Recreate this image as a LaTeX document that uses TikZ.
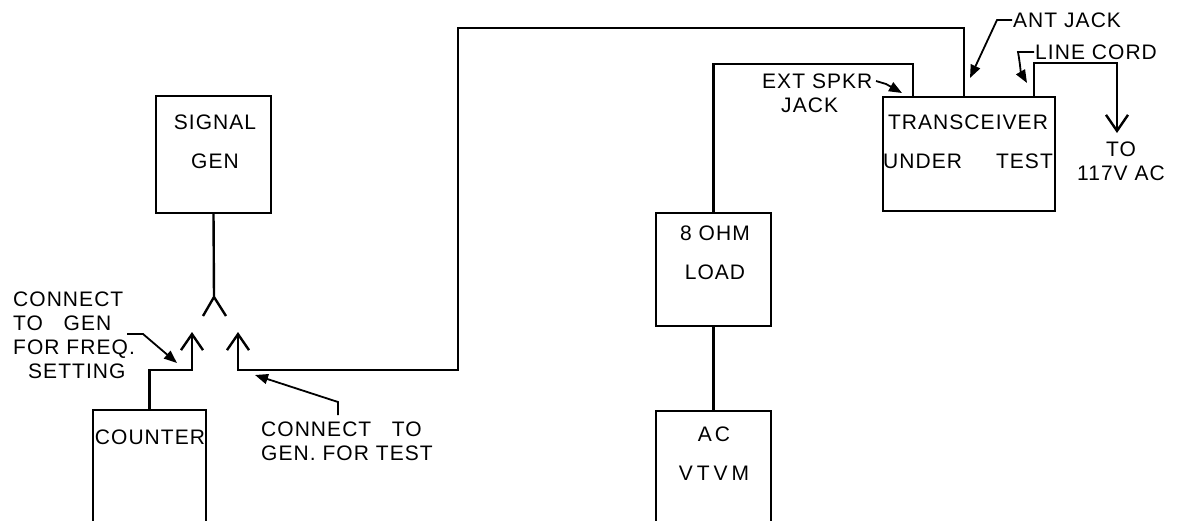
\documentclass[tikz,border=0pt]{standalone}
\usepackage{fontspec}
\setmainfont{Liberation Sans}[LetterSpace=5]
\usetikzlibrary{arrows.meta}

\tikzset{
  unit/.style={draw, minimum width=#1, inner sep=0pt, outer sep=0pt},
  txt/.style={inner sep=0pt, align=center, font=\fontsize{21}{39}\selectfont},
  note/.style={inner sep=0pt, align=left, font=\fontsize{21}{24}\selectfont},
  jack/.style={-{Straight Barb[length=16pt,width=22pt]}},
  leader/.style={line width=1.8pt, -{Triangle[length=13pt,width=10pt]}}
}

\begin{document}
\begin{tikzpicture}[x=1pt, y=-1pt, line width=2.4pt, line join=miter]
\useasboundingbox (0,0) rectangle (1178,520);
\clip (0,0) rectangle (1178,520);

% boxes
\node [unit=115pt, minimum height=117pt] (sig) at (213.5,154.5) {};
\node [unit=113pt, minimum height=120pt] (cnt) at (149.5,470) {};
\node [unit=115pt, minimum height=113pt] (load) at (713.5,269.5) {};
\node [unit=115pt, minimum height=119pt] (vtvm) at (713.5,470.5) {};
\node [unit=172pt, minimum height=114pt] (trx) at (969,154) {};

\node [txt] (sigtxt) at (215,142) {SIGNAL\\GEN};
\node [txt] (cnttxt) at (150,437) {COUNTER};
\node [txt] (loadtxt) at (715,253) {8 OHM\\LOAD};
\node [txt] (vtvmtxt) at (714,454) {A\hspace{3pt}C\\V\hspace{4pt}T\hspace{4pt}V\hspace{4pt}M};
\node [txt] (trxtxt) at (968,142) {TRANSCEIVER\\UNDER\hspace{34pt}TEST};

% jacks and plugs
\coordinate (fk) at (214,297);
\coordinate (lp) at (192,332);
\coordinate (rp) at (238,332);
\coordinate (rbend) at (458,370);
\coordinate (antjack) at (964,97);
\coordinate (spkjack) at (913,97);
\coordinate (cordjack) at (1034,97);
\coordinate (acplug) at (1117,133);

\draw (sig.south) -- (fk) -- +(-11,19) (fk) -- +(12,19);
\draw [jack] (cnt.north) -- ++(0,-40) -| (lp);
\draw [jack] (antjack) -- ++(0,-69) -| (rbend) -| (rp);
\draw (spkjack) -- ++(0,-33) -| (load.north);
\draw (load.south) -- (vtvm.north);
\draw [jack] (cordjack) -- ++(0,-34) -| (acplug);

% notes
\node [note, anchor=north west] (freq) at (12,291) {CONNECT\\TO\ \ \ GEN\\FOR FREQ.\\\hspace{15pt}SETTING};
\draw [leader] (127,334) -- (143,334) -- (177,363);

\node [note, anchor=north west] (test) at (260,421) {CONNECT\ \ \ TO\\GEN. FOR TEST};
\draw [leader] (338,415) -- (338,402) -- (255,375);

\node [note, anchor=north west] (spkr) at (761,73) {EXT SPKR\\\hspace{19pt}JACK};
\draw [leader] (876,81) -- (886,84) -- (902,93);

\node [note, anchor=west] (ant) at (1012,20) {ANT JACK};
\draw [leader] (ant.west) -- (997,20) -- (970,78);

\node [note, anchor=west] (cord) at (1034,52) {LINE CORD};
\draw [leader] (cord.west) -- (1018,52) to[out=-80,in=120] (1027,83);

\node [note, align=center] (mains) at (1121,161) {TO\\117V AC};
\end{tikzpicture}
\end{document}
